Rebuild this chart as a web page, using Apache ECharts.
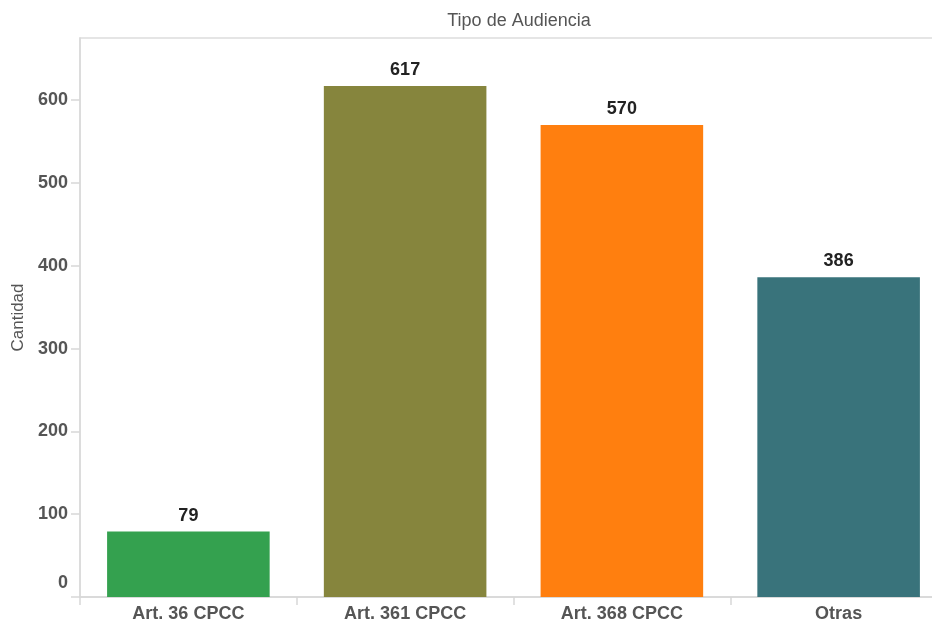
<!DOCTYPE html>
<html><head><meta charset="utf-8">
<script src="https://cdn.jsdelivr.net/npm/echarts@6/dist/echarts.min.js"></script>
<style>html,body{margin:0;padding:0;background:#fff}#c{width:932px;height:623px}</style>
</head><body><div id="c"></div>
<script>
const categories = ['Art. 36 CPCC', 'Art. 361 CPCC', 'Art. 368 CPCC', 'Otras'];
const values = [79, 617, 570, 386];
const colors = ['#34a14f', '#86853d', '#ff7f0f', '#39737b'];
const FONT = '"Liberation Sans", Arial, sans-serif';
const chart = echarts.init(document.getElementById('c'), null, {renderer: 'canvas'});
chart.setOption({
  animation: false,
  title: {text: 'Tipo de Audiencia', left: 514, top: 7, textAlign: 'center',
    textStyle: {fontFamily: FONT, fontSize: 18, fontWeight: 'normal', color: '#555'}},
  grid: {left: 80, top: 38, width: 867, bottom: 26, containLabel: false, outerBoundsMode: 'none',
    show: true, borderColor: '#ddd', borderWidth: 1.5},
  xAxis: {type: 'category', data: categories,
    axisLine: {lineStyle: {color: '#d8d8d8', width: 1.5}},
    axisTick: {show: true, length: 8, lineStyle: {color: '#d8d8d8', width: 1.5}},
    axisLabel: {fontFamily: FONT, fontSize: 18, fontWeight: 'bold', color: '#555', margin: 8}},
  yAxis: {type: 'value', min: 0, max: 675, interval: 100,
    name: 'Cantidad', nameLocation: 'middle', nameGap: 51,
    nameTextStyle: {fontFamily: FONT, fontSize: 17, color: '#555'},
    axisLine: {show: true, lineStyle: {color: '#d8d8d8', width: 1.5}},
    axisTick: {show: true, length: 9, lineStyle: {color: '#d8d8d8', width: 1.5}},
    splitLine: {show: false},
    axisLabel: {showMaxLabel: false, fontFamily: FONT, fontSize: 18, fontWeight: 'bold', color: '#555', margin: 12,
      formatter: v => v === 0 ? '{z|0}' : String(v),
      rich: {z: {fontFamily: FONT, fontSize: 18, fontWeight: 'bold', color: '#555', padding: [0, 0, 28, 0]}}}},
  series: [{type: 'bar', barWidth: '75%',
    data: values.map((v, i) => ({value: v, itemStyle: {color: colors[i]}})),
    label: {show: true, position: 'top', distance: 7, fontFamily: FONT, fontSize: 18, fontWeight: 'bold', color: '#222'}}]
});
</script></body></html>
